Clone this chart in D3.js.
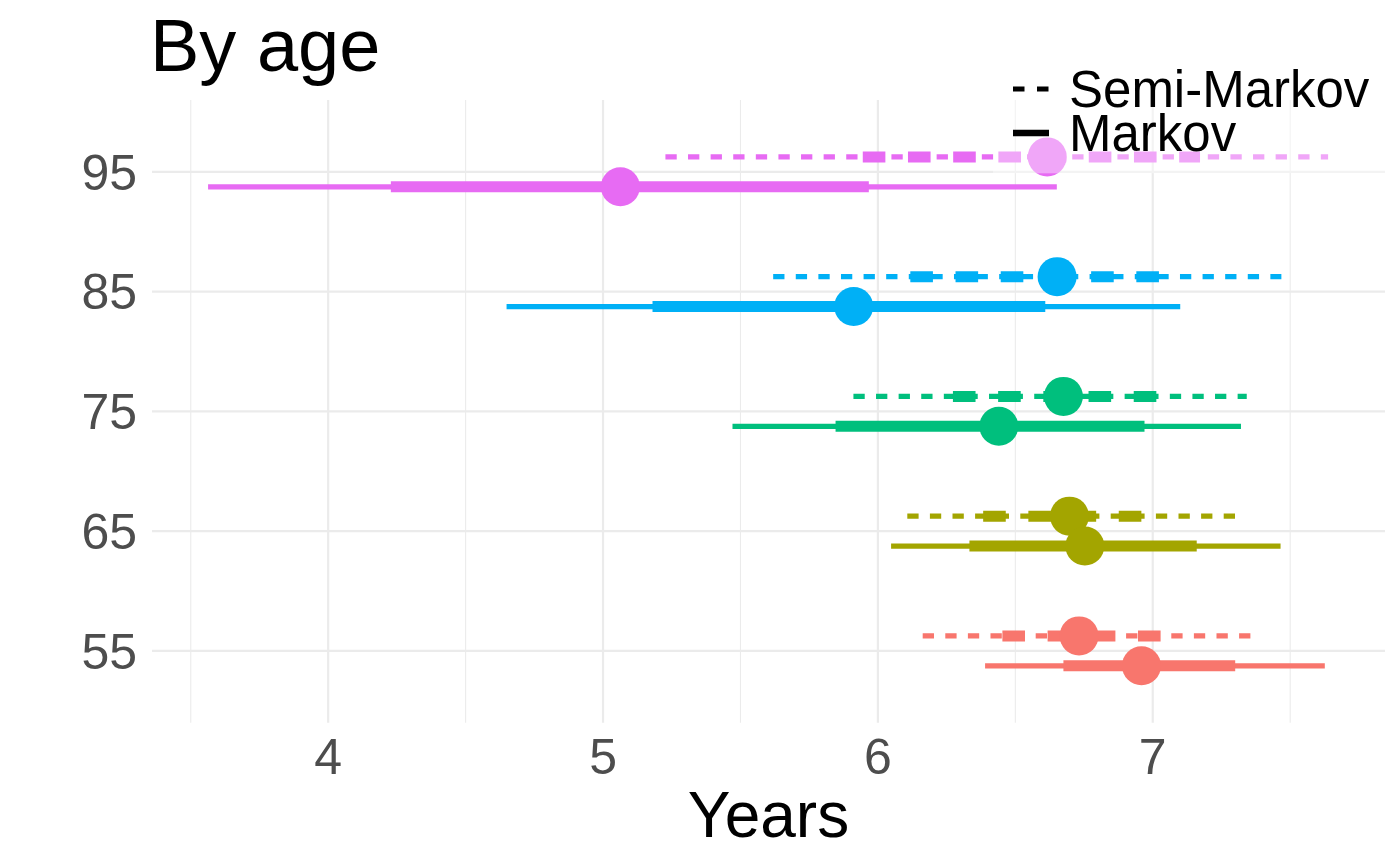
<!DOCTYPE html>
<html>
<head>
<meta charset="utf-8">
<script src="https://cdn.jsdelivr.net/npm/d3@7"></script>
<style>
  html, body { margin: 0; padding: 0; background: #fff; }
  svg { display: block; font-family: "Liberation Sans", Arial, Helvetica, sans-serif; }
</style>
</head>
<body>
<svg id="chart" width="1400" height="865"></svg>
<script>
// ---- data ----
const ages = [55, 65, 75, 85, 95];
const colors = ["#F8766D", "#A3A500", "#00BF7D", "#00B0F6", "#E76BF3"];
const models = ["Semi-Markov", "Markov"];

const semiEst    = [6.732, 6.697, 6.675, 6.652, 6.616];
const semiInnerLo = [6.453, 6.383, 6.273, 6.118, 5.945];
const semiInnerHi = [7.030, 6.975, 7.021, 7.065, 7.172];
const semiOuterLo = [6.163, 6.107, 5.911, 5.619, 5.227];
const semiOuterHi = [7.360, 7.304, 7.342, 7.468, 7.638];

const markEst    = [6.959, 6.753, 6.440, 5.912, 5.063];
const markInnerLo = [6.675, 6.333, 5.846, 5.180, 4.228];
const markInnerHi = [7.300, 7.160, 6.970, 6.609, 5.967];
const markOuterLo = [6.390, 6.048, 5.471, 4.649, 3.563];
const markOuterHi = [7.626, 7.465, 7.321, 7.100, 6.651];

const xTicks = [4, 5, 6, 7];
const xMinor = [3.5, 4.5, 5.5, 6.5, 7.5];

// ---- layout ----
const svg = d3.select("#chart");
const panel = { left: 152, right: 1385, top: 100, bottom: 722.7 };

const x = d3.scaleLinear().domain([3.359, 7.845]).range([panel.left, panel.right]);
const y = d3.scalePoint().domain(ages.map(String)).range([panel.bottom, panel.top]).padding(0.6);
const dodge = y.step() * 0.125;

const rows = [];
ages.forEach((a, i) => {
  rows.push({ age: a, model: "Semi-Markov", col: colors[i], off: -dodge,
    est: semiEst[i], ilo: semiInnerLo[i], ihi: semiInnerHi[i], olo: semiOuterLo[i], ohi: semiOuterHi[i] });
});
ages.forEach((a, i) => {
  rows.push({ age: a, model: "Markov", col: colors[i], off: dodge,
    est: markEst[i], ilo: markInnerLo[i], ihi: markInnerHi[i], olo: markOuterLo[i], ohi: markOuterHi[i] });
});
const yy = d => y(String(d.age)) + d.off;

// ---- grid ----
const grid = svg.append("g");
grid.selectAll("line.vminor").data(xMinor).join("line")
  .attr("x1", d => x(d)).attr("x2", d => x(d))
  .attr("y1", panel.top).attr("y2", panel.bottom)
  .attr("stroke", "#EBEBEB").attr("stroke-width", 1.1);
grid.selectAll("line.vmajor").data(xTicks).join("line")
  .attr("x1", d => x(d)).attr("x2", d => x(d))
  .attr("y1", panel.top).attr("y2", panel.bottom)
  .attr("stroke", "#EBEBEB").attr("stroke-width", 2.2);
grid.selectAll("line.hmajor").data(ages).join("line")
  .attr("x1", panel.left).attr("x2", panel.right)
  .attr("y1", d => y(String(d))).attr("y2", d => y(String(d)))
  .attr("stroke", "#EBEBEB").attr("stroke-width", 2.2);

// ---- intervals ----
const marks = svg.append("g");
const dash = m => m === "Semi-Markov";
marks.selectAll("line.outer").data(rows).join("line")
  .attr("x1", d => x(d.olo)).attr("x2", d => x(d.ohi))
  .attr("y1", yy).attr("y2", yy)
  .attr("stroke", d => d.col).attr("stroke-width", 5.3)
  .attr("stroke-dasharray", d => dash(d.model) ? "11.3,11.3" : null);
marks.selectAll("line.inner").data(rows).join("line")
  .attr("x1", d => x(d.ilo)).attr("x2", d => x(d.ihi))
  .attr("y1", yy).attr("y2", yy)
  .attr("stroke", d => d.col).attr("stroke-width", 11)
  .attr("stroke-dasharray", d => dash(d.model) ? "22.6,22.6" : null);
marks.selectAll("circle").data(rows).join("circle")
  .attr("cx", d => x(d.est)).attr("cy", yy).attr("r", 19.5)
  .attr("fill", d => d.col);

// ---- axes text ----
svg.append("g").selectAll("text").data(ages).join("text")
  .attr("x", 137).attr("y", d => y(String(d)))
  .attr("dy", "0.355em")
  .attr("text-anchor", "end")
  .attr("font-size", 50).attr("fill", "#4D4D4D")
  .text(d => d);
svg.append("g").selectAll("text").data(xTicks).join("text")
  .attr("x", d => x(d)).attr("y", 774)
  .attr("text-anchor", "middle")
  .attr("font-size", 50).attr("fill", "#4D4D4D")
  .text(d => d);

svg.append("text").attr("x", (panel.left + panel.right) / 2).attr("y", 837)
  .attr("text-anchor", "middle").attr("font-size", 64).attr("fill", "#000")
  .text("Years");
svg.append("text").attr("x", 150).attr("y", 71)
  .attr("font-size", 74).attr("fill", "#000")
  .text("By age");

// ---- legend ----
const leg = svg.append("g");
leg.append("rect").attr("x", 993).attr("y", 40).attr("width", 407).attr("height", 133.3)
  .attr("fill", "#fff").attr("fill-opacity", 0.4);
const legY = [89, 133];
leg.selectAll("line.key").data(models).join("line")
  .attr("x1", 1013).attr("x2", 1049)
  .attr("y1", (d, i) => legY[i]).attr("y2", (d, i) => legY[i])
  .attr("stroke", "#000").attr("stroke-width", (d, i) => i === 0 ? 5 : 6.5)
  .attr("stroke-dasharray", d => dash(d) ? "11.5,12.5" : null);
leg.selectAll("text").data(models).join("text")
  .attr("x", 1069).attr("y", (d, i) => legY[i])
  .attr("dy", "0.355em")
  .attr("font-size", 51).attr("fill", "#000")
  .text(d => d);
</script>
</body>
</html>
